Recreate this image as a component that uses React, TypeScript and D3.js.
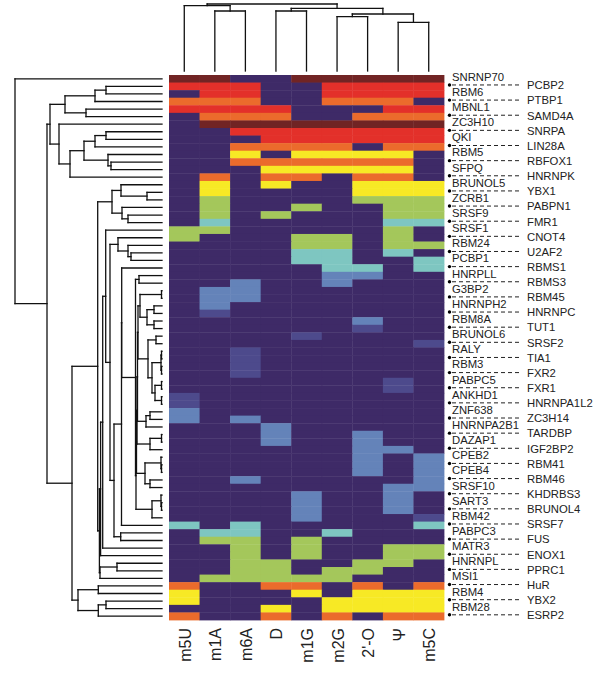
import React from "react";
import * as d3 from "d3";

const columns = ["m5U", "m1A", "m6A", "D", "m1G", "m2G", "2'-O", "Ψ", "m5C"];

const rowNames = [
  "SNRNP70", "PCBP2", "RBM6", "PTBP1", "MBNL1", "SAMD4A", "ZC3H10", "SNRPA", "QKI", "LIN28A",
  "RBM5", "RBFOX1", "SFPQ", "HNRNPK", "BRUNOL5", "YBX1", "ZCRB1", "PABPN1", "SRSF9", "FMR1",
  "SRSF1", "CNOT4", "RBM24", "U2AF2", "PCBP1", "RBMS1", "HNRPLL", "RBMS3", "G3BP2", "RBM45",
  "HNRNPH2", "HNRNPC", "RBM8A", "TUT1", "BRUNOL6", "SRSF2", "RALY", "TIA1", "RBM3", "FXR2",
  "PABPC5", "FXR1", "ANKHD1", "HNRNPA1L2", "ZNF638", "ZC3H14", "HNRNPA2B1", "TARDBP", "DAZAP1", "IGF2BP2",
  "CPEB2", "RBM41", "CPEB4", "RBM46", "SRSF10", "KHDRBS3", "SART3", "BRUNOL4", "RBM42", "SRSF7",
  "PABPC3", "FUS", "MATR3", "ENOX1", "HNRNPL", "PPRC1", "MSI1", "HuR", "RBM4", "YBX2",
  "RBM28", "ESRP2",
];

// level per cell (0 = lowest .. 8 = highest), columns in order above
const cellLevels: number[][] = [
  [8, 8, 0, 0, 8, 8, 8, 8, 8],
  [7, 7, 7, 0, 0, 7, 7, 7, 7],
  [0, 7, 7, 0, 0, 7, 7, 7, 7],
  [6, 6, 6, 0, 0, 6, 6, 6, 0],
  [7, 7, 7, 7, 0, 0, 0, 7, 7],
  [0, 6, 6, 6, 0, 0, 6, 6, 6],
  [0, 8, 8, 8, 8, 8, 8, 8, 8],
  [0, 0, 7, 7, 7, 7, 7, 7, 7],
  [0, 0, 0, 7, 7, 7, 7, 7, 7],
  [0, 0, 6, 6, 6, 6, 0, 6, 6],
  [0, 0, 5, 0, 5, 5, 5, 5, 0],
  [0, 0, 6, 6, 6, 6, 6, 6, 0],
  [0, 0, 0, 5, 5, 5, 5, 5, 0],
  [0, 6, 0, 6, 6, 0, 6, 6, 0],
  [0, 5, 0, 5, 0, 0, 5, 5, 5],
  [0, 5, 0, 0, 0, 0, 5, 5, 5],
  [0, 4, 0, 0, 0, 0, 4, 4, 4],
  [0, 4, 0, 0, 4, 0, 0, 4, 4],
  [0, 4, 0, 4, 0, 0, 0, 4, 4],
  [0, 3, 0, 0, 0, 0, 0, 3, 3],
  [4, 4, 0, 0, 0, 0, 0, 4, 0],
  [4, 0, 0, 0, 4, 4, 0, 4, 0],
  [0, 0, 0, 0, 4, 4, 0, 4, 4],
  [0, 0, 0, 0, 3, 3, 0, 3, 0],
  [0, 0, 0, 0, 3, 3, 0, 0, 3],
  [0, 0, 0, 0, 0, 3, 3, 0, 3],
  [0, 0, 0, 0, 0, 2, 2, 0, 0],
  [0, 0, 2, 0, 0, 2, 0, 0, 0],
  [0, 2, 2, 0, 0, 0, 0, 0, 0],
  [0, 2, 2, 0, 0, 0, 0, 0, 0],
  [0, 2, 0, 0, 0, 0, 0, 0, 0],
  [0, 1, 0, 0, 0, 0, 0, 0, 0],
  [0, 0, 0, 0, 0, 0, 2, 0, 0],
  [0, 0, 0, 0, 0, 0, 1, 0, 0],
  [0, 0, 0, 0, 1, 0, 0, 0, 0],
  [0, 0, 0, 0, 0, 0, 0, 0, 1],
  [0, 0, 1, 0, 0, 0, 0, 0, 0],
  [0, 0, 1, 0, 0, 0, 0, 0, 0],
  [0, 0, 1, 0, 0, 0, 0, 0, 0],
  [0, 0, 1, 0, 0, 0, 0, 0, 0],
  [0, 0, 0, 0, 0, 0, 0, 1, 0],
  [0, 0, 0, 0, 0, 0, 0, 1, 0],
  [1, 0, 0, 0, 0, 0, 0, 0, 0],
  [1, 0, 0, 0, 0, 0, 0, 0, 0],
  [2, 0, 0, 0, 0, 0, 0, 0, 0],
  [2, 0, 2, 0, 0, 0, 0, 0, 0],
  [0, 0, 0, 2, 0, 0, 0, 0, 0],
  [0, 0, 0, 2, 0, 0, 2, 0, 0],
  [0, 0, 0, 2, 0, 0, 2, 0, 0],
  [0, 0, 0, 0, 0, 0, 2, 2, 0],
  [0, 0, 0, 0, 0, 0, 2, 0, 2],
  [0, 0, 0, 0, 0, 0, 2, 0, 2],
  [0, 0, 0, 0, 0, 0, 2, 0, 2],
  [0, 0, 2, 0, 0, 0, 0, 0, 2],
  [0, 0, 0, 0, 0, 0, 0, 2, 2],
  [0, 0, 0, 0, 2, 0, 0, 2, 0],
  [0, 0, 0, 0, 2, 0, 0, 2, 0],
  [0, 0, 0, 0, 2, 0, 0, 2, 0],
  [0, 0, 0, 0, 2, 0, 0, 0, 1],
  [3, 0, 3, 0, 0, 0, 0, 0, 3],
  [0, 3, 3, 0, 0, 3, 0, 0, 0],
  [0, 4, 4, 0, 4, 0, 0, 0, 0],
  [0, 0, 4, 0, 4, 0, 0, 4, 4],
  [0, 0, 4, 0, 4, 0, 0, 4, 4],
  [0, 0, 4, 4, 0, 0, 4, 4, 0],
  [0, 0, 4, 4, 0, 4, 4, 0, 0],
  [0, 4, 4, 4, 4, 4, 0, 0, 0],
  [6, 0, 0, 6, 6, 0, 6, 0, 6],
  [5, 0, 0, 0, 5, 0, 5, 5, 5],
  [5, 0, 0, 0, 0, 5, 5, 5, 5],
  [0, 0, 0, 5, 0, 5, 5, 5, 5],
  [6, 0, 0, 6, 0, 6, 0, 6, 6],
];

const levelColors = [
  "#3e2a67", "#4d4a8c", "#6483b9", "#7ec6c1", "#a4c75b",
  "#f7e925", "#eb6b2c", "#e3302a", "#712424",
];

type Tree = number | [Tree, Tree, number];

// column dendrogram: [left, right, merge height]
const colTree: Tree = [
  [0, [1, 2, 60], 65.3],
  [[3, 4, 60], [[5, 6, 54.3], [7, 8, 48.7], 57], 62.7],
  67,
];

// dense cluster of low-signal rows (26..58)
const denseRows: Tree = [
  [26, 27, 23],
  [
    [
      [
        [
          [
            [[28, 29, 0.5], [[30, 31, 8], [32, 33, 8], 15], 22],
            [[34, 35, 6], [[[36, 37, 0.5], [38, 39, 0.5], 1], [[40, 41, 0.5], [42, 43, 0.5], 7], 10], 14],
            24,
          ],
          [[44, 45, 12], 46, 16],
          24.5,
        ],
        [[47, 48, 0.5], 49, 12],
        25,
      ],
      [[50, [51, 52, 0.5], 1], [53, 54, 12], 17],
      25.5,
    ],
    [[55, [56, 57, 0.5], 1], 58, 10],
    26,
  ],
  26.5,
];

// row dendrogram: [upper, lower, merge height]
const rowTree: Tree = [
  0,
  [
    [
      [[[1, 2, 56], 3, 67], [4, 5, 76], 97],
      [6, [[[[7, 8, 56], 9, 67], [10, [11, 12, 51], 54], 78], 13, 92], 103],
      112,
    ],
    [
      [
        [[14, [15, 16, 15], 41], [17, [18, 19, 34], 40], 50],
        [
          [
            [
              [
                20,
                [
                  [21, [22, [23, 24, 31], 34], 44],
                  [[[25, denseRows, 40.3], 59, 40.5], [60, 61, 41.3], 48],
                  52,
                ],
                56.3,
              ],
              62,
              59.3,
            ],
            63,
            61.4,
          ],
          [[64, 65, 45], 66, 62],
          62.6,
        ],
        64.3,
      ],
      [[67, 68, 63.7], [[69, 70, 56], 71, 63.7], 84],
      90,
    ],
    115,
  ],
  147,
];

const W = 600;
const H = 682;
const heatLeft = 169;
const heatRight = 444;
const heatTop = 75;
const heatBottom = 620;

type Seg = { x1: number; y1: number; x2: number; y2: number };

function layoutTree(
  node: Tree,
  leafPos: (i: number) => number,
  hScale: (h: number) => number,
  segs: Seg[],
  horizontal: boolean
): { pos: number; h: number } {
  if (typeof node === "number") return { pos: leafPos(node), h: 0 };
  const a = layoutTree(node[0], leafPos, hScale, segs, horizontal);
  const b = layoutTree(node[1], leafPos, hScale, segs, horizontal);
  const p = hScale(node[2]);
  const pa = hScale(a.h);
  const pb = hScale(b.h);
  if (horizontal) {
    segs.push({ x1: p, y1: a.pos, x2: p, y2: b.pos });
    segs.push({ x1: p, y1: a.pos, x2: pa, y2: a.pos });
    segs.push({ x1: p, y1: b.pos, x2: pb, y2: b.pos });
  } else {
    segs.push({ x1: a.pos, y1: p, x2: b.pos, y2: p });
    segs.push({ x1: a.pos, y1: p, x2: a.pos, y2: pa });
    segs.push({ x1: b.pos, y1: p, x2: b.pos, y2: pb });
  }
  return { pos: (a.pos + b.pos) / 2, h: node[2] };
}

export default function App() {
  const x = d3.scaleBand<number>().domain(d3.range(columns.length)).range([heatLeft, heatRight]);
  const y = d3.scaleBand<number>().domain(d3.range(rowNames.length)).range([heatTop, heatBottom]);
  const rowCenter = (i: number) => (y(i) as number) + y.bandwidth() / 2;
  const colCenter = (j: number) => (x(j) as number) + x.bandwidth() / 2;

  const rowSegs: Seg[] = [];
  const rowH = d3.scaleLinear().domain([0, 147]).range([162, 15]);
  layoutTree(rowTree, rowCenter, rowH, rowSegs, true);

  const colSegs: Seg[] = [];
  const colH = d3.scaleLinear().domain([0, 67]).range([71, 4]);
  layoutTree(colTree, colCenter, colH, colSegs, false);

  const font = "'Liberation Sans', Arial, Helvetica, sans-serif";

  return (
    <svg
      width={W}
      height={H}
      viewBox={`0 0 ${W} ${H}`}
      style={{ position: "absolute", left: 0, top: 0, background: "#fff" }}
    >
      <rect x={0} y={0} width={W} height={H} fill="#fff" />
      <g>
        {cellLevels.map((row, i) =>
          row.map((lv, j) => (
            <rect
              key={`c${i}-${j}`}
              x={x(j)}
              y={y(i)}
              width={x.bandwidth() + 0.4}
              height={y.bandwidth() + 0.4}
              fill={levelColors[lv]}
            />
          ))
        )}
      </g>
      <g stroke="#111" strokeWidth={1.3} strokeLinecap="square" fill="none">
        {rowSegs.map((s, k) => (
          <line key={`r${k}`} x1={s.x1} y1={s.y1} x2={s.x2} y2={s.y2} />
        ))}
        {colSegs.map((s, k) => (
          <line key={`t${k}`} x1={s.x1} y1={s.y1} x2={s.x2} y2={s.y2} />
        ))}
      </g>
      <g fontFamily={font} fontSize={11.3} fill="#222">
        {rowNames.map((name, i) => {
          const cy = rowCenter(i);
          if (i % 2 === 0) {
            return (
              <text key={`l${i}`} x={452} y={cy + 2}>
                {name}
              </text>
            );
          }
          return (
            <g key={`l${i}`}>
              <circle cx={449.5} cy={cy - 1.4} r={1.7} fill="#000" />
              <line
                x1={452}
                x2={522}
                y1={cy - 1.4}
                y2={cy - 1.4}
                stroke="#222"
                strokeWidth={1}
                strokeDasharray="4,3"
              />
              <text x={527} y={cy + 2.9}>
                {name}
              </text>
            </g>
          );
        })}
      </g>
      <g fontFamily={font} fontSize={16} fill="#222">
        {columns.map((c, j) => (
          <text
            key={`col${j}`}
            transform={`translate(${colCenter(j) + 6.5},628) rotate(-90)`}
            textAnchor="end"
          >
            {c}
          </text>
        ))}
      </g>
    </svg>
  );
}
